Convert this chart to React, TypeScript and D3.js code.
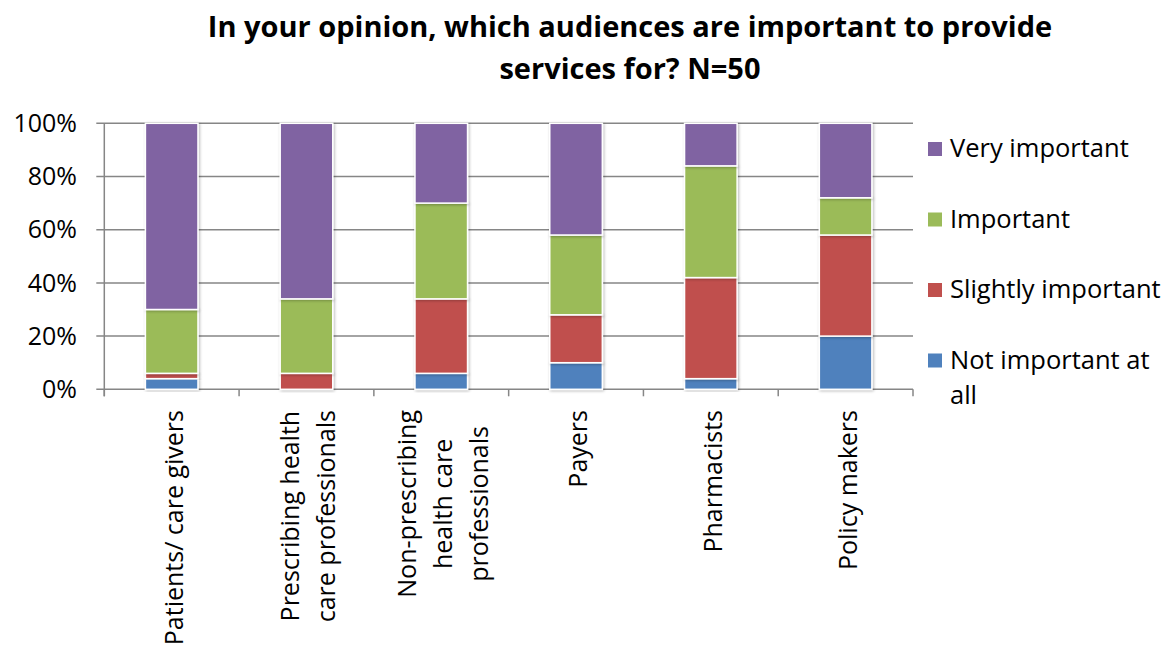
import React, { useEffect, useRef } from "react";
import * as d3 from "d3";

const categories = [
  "Patients/ care givers",
  "Prescribing health care professionals",
  "Non-prescribing health care professionals",
  "Payers",
  "Pharmacists",
  "Policy makers",
];
const categoryLines = [
  ["Patients/ care givers"],
  ["Prescribing health", "care professionals"],
  ["Non-prescribing", "health care", "professionals"],
  ["Payers"],
  ["Pharmacists"],
  ["Policy makers"],
];
const notImportant = [4, 0, 6, 10, 4, 20];
const slightlyImportant = [2, 6, 28, 18, 38, 38];
const important = [24, 28, 36, 30, 42, 14];
const veryImportant = [70, 66, 30, 42, 16, 28];

const seriesNames = ["Not important at all", "Slightly important", "Important", "Very important"];
const seriesColors = ["#4F81BD", "#C0504D", "#9BBB59", "#8064A2"];
const yTicks = [0, 20, 40, 60, 80, 100];
const titleLines = ["In your opinion, which audiences are important to provide", "services for? N=50"];
const legendLines = [["Very important"], ["Important"], ["Slightly important"], ["Not important at", "all"]];
const legendColors = ["#8064A2", "#9BBB59", "#C0504D", "#4F81BD"];

const W = 1166, H = 648;
const FONT = "'Open Sans', sans-serif";

export default function App() {
  const ref = useRef<SVGSVGElement>(null);
  useEffect(() => {
    const svg = d3.select(ref.current);
    svg.selectAll("*").remove();

    const x0 = 104.3, x1 = 913, yTop = 123.3, yBot = 389.3;
    const x = d3.scaleBand<string>().domain(categories).range([x0, x1]).paddingInner(0.61).paddingOuter(0.305);
    const y = d3.scaleLinear().domain([0, 100]).range([yBot, yTop]);
    const step = x.step();

    const defs = svg.append("defs");
    const f = defs.append("filter").attr("id", "sh").attr("x", "-20%").attr("y", "-20%").attr("width", "140%").attr("height", "140%");
    f.append("feGaussianBlur").attr("in", "SourceAlpha").attr("stdDeviation", 1.5);
    f.append("feOffset").attr("dx", 0.5).attr("dy", 0.5).attr("result", "b");
    f.append("feComponentTransfer").append("feFuncA").attr("type", "linear").attr("slope", 0.3);
    const m = f.append("feMerge");
    m.append("feMergeNode");
    m.append("feMergeNode").attr("in", "SourceGraphic");

    // title
    svg.append("g").selectAll("text").data(titleLines).join("text")
      .attr("x", 630).attr("y", (_d, i) => 37 + i * 42)
      .attr("text-anchor", "middle").attr("font-family", FONT).attr("font-weight", "bold")
      .attr("font-size", 29).attr("fill", "#000").text(d => d);

    // gridlines
    const grid = svg.append("g");
    grid.selectAll("line").data(yTicks).join("line")
      .attr("x1", x0 - 8).attr("x2", x1).attr("y1", d => y(d)).attr("y2", d => y(d))
      .attr("stroke", "#868686").attr("stroke-width", 1.5);
    // y axis line
    grid.append("line").attr("x1", x0).attr("x2", x0).attr("y1", yTop).attr("y2", yBot + 7)
      .attr("stroke", "#868686").attr("stroke-width", 1.5);
    // x ticks
    grid.selectAll("line.xt").data(d3.range(categories.length + 1)).join("line").attr("class", "xt")
      .attr("x1", i => x0 + i * step).attr("x2", i => x0 + i * step)
      .attr("y1", yBot).attr("y2", yBot + 7)
      .attr("stroke", "#868686").attr("stroke-width", 1.5);

    // y tick labels
    svg.append("g").selectAll("text").data(yTicks).join("text")
      .attr("x", 77).attr("y", d => y(d)).attr("dy", "0.35em").attr("text-anchor", "end")
      .attr("font-family", FONT).attr("font-size", 25).attr("fill", "#000").text(d => d + "%");

    // stacked bars
    const rows = categories.map((c, i) => ({
      cat: c,
      s0: notImportant[i], s1: slightlyImportant[i], s2: important[i], s3: veryImportant[i],
    }));
    const stack = d3.stack<any>().keys(["s0", "s1", "s2", "s3"]);
    const layers = stack(rows);
    const bars = svg.append("g");
    layers.forEach((layer, li) => {
      bars.append("g").selectAll("rect").data(layer.filter(d => d[1] - d[0] > 0)).join("rect")
        .attr("x", d => x(d.data.cat)!).attr("width", x.bandwidth())
        .attr("y", d => y(d[1])).attr("height", d => y(d[0]) - y(d[1]))
        .attr("fill", seriesColors[li]).attr("stroke", "#fff").attr("stroke-width", 1.5)
        .attr("filter", "url(#sh)");
    });

    // category labels
    const lab = svg.append("g");
    categoryLines.forEach((lines, ci) => {
      const cx = x(categories[ci])! + x.bandwidth() / 2;
      const n = lines.length;
      const g = lab.append("g");
      const texts = g.selectAll("text").data(lines).join("text")
        .attr("font-family", FONT).attr("font-size", 25).attr("fill", "#000")
        .attr("text-anchor", "middle").text(d => d);
      let maxLen = 0;
      texts.each(function () {
        maxLen = Math.max(maxLen, (this as SVGTextElement).getComputedTextLength());
      });
      const cy = 410 + maxLen / 2;
      texts.attr("transform", (_d, i) => {
        const bx = cx + 11 + (i - (n - 1) / 2) * 36;
        return `translate(${bx},${cy}) rotate(-90)`;
      });
    });

    // legend
    const leg = svg.append("g");
    legendLines.forEach((lines, i) => {
      const cyy = 149 + i * 70.5;
      leg.append("rect").attr("x", 928).attr("y", cyy - 7).attr("width", 14).attr("height", 14)
        .attr("fill", legendColors[i]);
      leg.append("g").selectAll("text").data(lines).join("text")
        .attr("x", 950).attr("y", (_d, j) => cyy + 8 + j * 35)
        .attr("font-family", FONT).attr("font-size", 25.5).attr("fill", "#000").text(d => d);
    });
  }, []);
  return (
    <svg ref={ref} width={W} height={H} style={{ position: "absolute", left: 0, top: 0, background: "#fff" }} />
  );
}
